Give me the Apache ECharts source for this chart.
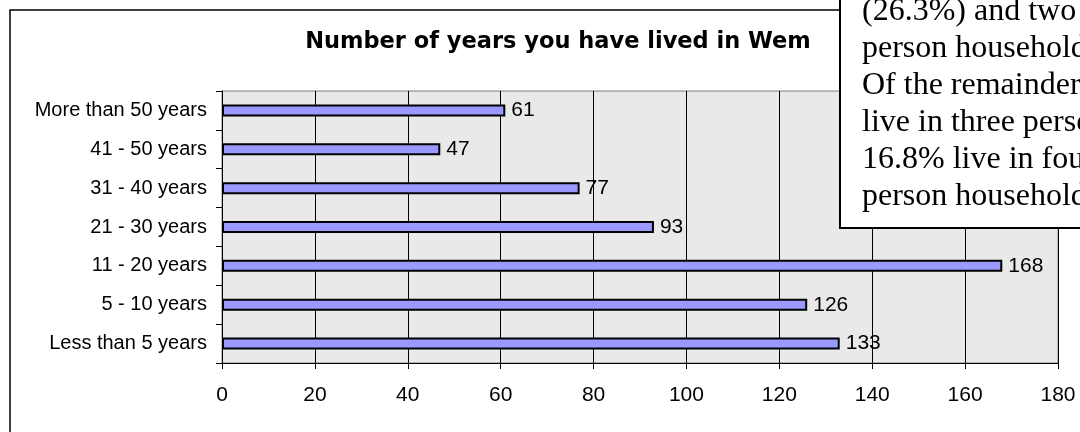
<!DOCTYPE html>
<html>
<head>
<meta charset="utf-8">
<script src="https://cdn.jsdelivr.net/npm/echarts@6/dist/echarts.min.js"></script>
<style>
  html, body { margin: 0; padding: 0; background: #fff; }
  #chart { width: 1080px; height: 432px; }
</style>
</head>
<body>
<div id="chart"></div>
<script>
// categories, top to bottom
const categories = ['More than 50 years', '41 - 50 years', '31 - 40 years', '21 - 30 years',
    '11 - 20 years', '5 - 10 years', 'Less than 5 years'];
const yearsLived = [61, 47, 77, 93, 168, 126, 133];
const xTicks = [0, 180, 20]; // min, max, step
const titleText = 'Number of years you have lived in Wem';
// text from the page the chart sits in, partly covering it
const noteLines = ['(26.3%) and two', 'person household', 'Of the remainder', 'live in three person',
    '16.8% live in four', 'person household'];

const chart = echarts.init(document.getElementById('chart'));

let noteText = noteLines.map(function (line, i) {
    return {
        type: 'text',
        z: 101,
        x: 862,
        y: 28 + i * 37,
        style: {
            text: line,
            font: '32px "Liberation Serif", "Times New Roman", serif',
            fill: '#000',
            textVerticalAlign: 'bottom'
        }
    }
})

const option = {
    backgroundColor: '#fff',
    animation: false,
    title: {
        text: titleText,
        left: 553,
        top: 26,
        textAlign: 'center',
        textStyle: {
            fontFamily: '"DejaVu Sans", Arial, sans-serif',
            fontSize: 22.5,
            fontWeight: 'bold',
            color: '#000'
        }
    },
    grid: {
        left: 222,
        right: 22,
        top: 91,
        bottom: 69,
        show: true,
        backgroundColor: '#e9e9e9',
        borderColor: '#808080',
        borderWidth: 1
    },
    xAxis: {
        type: 'value',
        min: xTicks[0],
        max: xTicks[1],
        interval: xTicks[2],
        axisLine: { show: true, lineStyle: { color: '#000', width: 1 } },
        axisTick: { show: true, length: 6, lineStyle: { color: '#000' } },
        axisLabel: {
            margin: 22,
            fontFamily: 'Arial, "Liberation Sans", sans-serif',
            fontSize: 21,
            color: '#000'
        },
        splitLine: { show: true, lineStyle: { color: '#000', width: 1 } }
    },
    yAxis: {
        type: 'category',
        data: categories,
        inverse: true,
        axisLine: { show: true, lineStyle: { color: '#000', width: 1 } },
        axisTick: { show: true, length: 6, lineStyle: { color: '#000' } },
        axisLabel: {
            margin: 15,
            fontFamily: 'Arial, "Liberation Sans", sans-serif',
            fontSize: 20,
            color: '#000'
        }
    },
    series: [{
        type: 'bar',
        data: yearsLived,
        barWidth: 12,
        itemStyle: {
            color: '#9999ff',
            borderColor: '#000',
            borderWidth: 2
        },
        label: {
            show: true,
            position: 'right',
            distance: 6,
            fontFamily: 'Arial, "Liberation Sans", sans-serif',
            fontSize: 21,
            color: '#000'
        }
    }],
    graphic: [
        {
            // outer chart frame, runs off the right and bottom edges
            type: 'rect',
            z: 99,
            silent: true,
            shape: { x: 10, y: 10, width: 1200, height: 500 },
            style: { fill: null, stroke: '#000', lineWidth: 1.5 }
        },
        {
            type: 'rect',
            z: 100,
            shape: { x: 840, y: -10, width: 300, height: 238 },
            style: { fill: '#fff', stroke: '#000', lineWidth: 2 }
        }
    ].concat(noteText)
};

chart.setOption(option);
</script>
</body>
</html>
